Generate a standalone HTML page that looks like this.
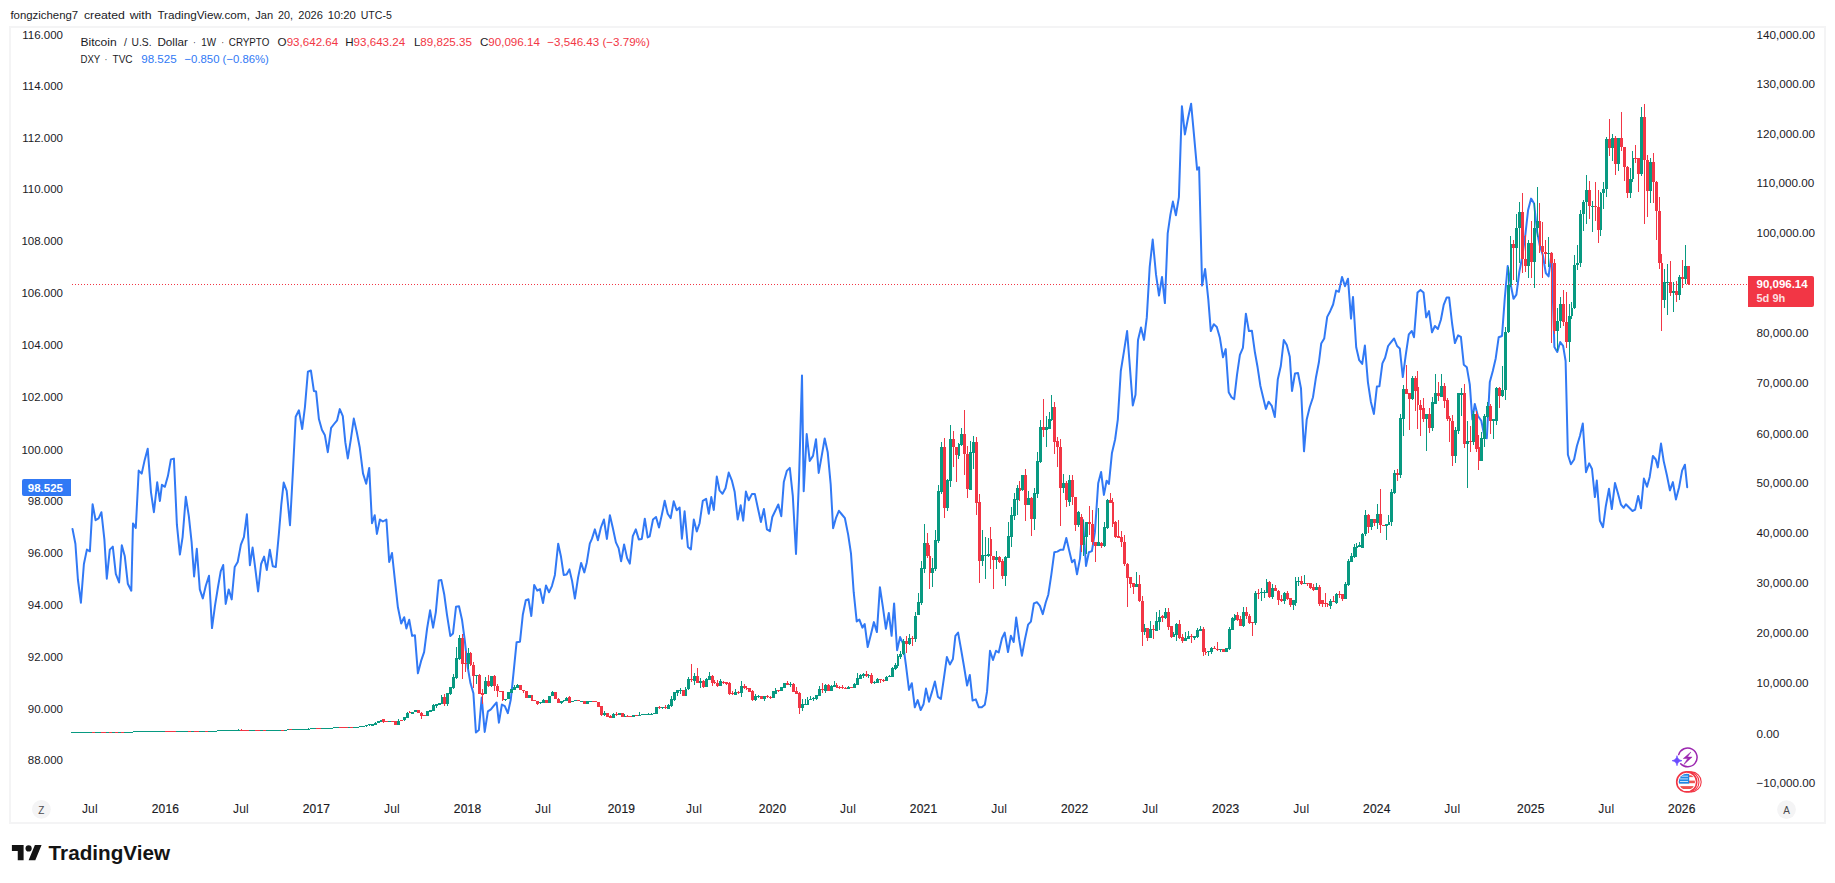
<!DOCTYPE html>
<html lang="en"><head><meta charset="utf-8"><title>BTCUSD vs DXY - TradingView</title>
<style>
html,body{margin:0;padding:0;background:#fff;}
body{width:1835px;height:883px;overflow:hidden;position:relative;font-family:"Liberation Sans",sans-serif;}
svg{position:absolute;left:0;top:0;display:block;}
text{font-family:"Liberation Sans",sans-serif;fill:#1b1b1f;}
.ax{font-size:11.5px;}
.rx{font-size:11.7px;}
.yr{font-size:12px;letter-spacing:0.2px;stroke:#1b1b1f;stroke-width:0.2px;}
.mo{font-size:12px;letter-spacing:0.2px;}
.lg{font-size:11.6px;}
.hd{font-size:11.7px;}
</style></head><body>
<svg width="1835" height="883" viewBox="0 0 1835 883">
<rect x="0" y="0" width="1835" height="883" fill="#fff"/>
<rect x="10" y="27" width="1815" height="796" fill="#fff" stroke="#f4f4f5" stroke-width="2"/>
<text class="hd" y="18.7"><tspan x="10.4" textLength="67.8" lengthAdjust="spacingAndGlyphs">fongzicheng7</tspan> <tspan x="83.9" textLength="41.0" lengthAdjust="spacingAndGlyphs">created</tspan> <tspan x="129.7" textLength="21.9" lengthAdjust="spacingAndGlyphs">with</tspan> <tspan x="157.4" textLength="92.5" lengthAdjust="spacingAndGlyphs">TradingView.com,</tspan> <tspan x="255.2" textLength="17.9" lengthAdjust="spacingAndGlyphs">Jan</tspan> <tspan x="277.9" textLength="15.0" lengthAdjust="spacingAndGlyphs">20,</tspan> <tspan x="298.3" textLength="24.6" lengthAdjust="spacingAndGlyphs">2026</tspan> <tspan x="327.7" textLength="28.2" lengthAdjust="spacingAndGlyphs">10:20</tspan> <tspan x="360.7" textLength="31.1" lengthAdjust="spacingAndGlyphs">UTC-5</tspan> </text>
<text class="ax" x="63" y="39" text-anchor="end">116.000</text>
<text class="ax" x="63" y="90" text-anchor="end">114.000</text>
<text class="ax" x="63" y="142" text-anchor="end">112.000</text>
<text class="ax" x="63" y="193" text-anchor="end">110.000</text>
<text class="ax" x="63" y="245" text-anchor="end">108.000</text>
<text class="ax" x="63" y="297" text-anchor="end">106.000</text>
<text class="ax" x="63" y="349" text-anchor="end">104.000</text>
<text class="ax" x="63" y="401" text-anchor="end">102.000</text>
<text class="ax" x="63" y="454" text-anchor="end">100.000</text>
<text class="ax" x="63" y="505" text-anchor="end">98.000</text>
<text class="ax" x="63" y="557" text-anchor="end">96.000</text>
<text class="ax" x="63" y="609" text-anchor="end">94.000</text>
<text class="ax" x="63" y="661" text-anchor="end">92.000</text>
<text class="ax" x="63" y="713" text-anchor="end">90.000</text>
<text class="ax" x="63" y="764" text-anchor="end">88.000</text>
<text class="rx" x="1756.5" y="39">140,000.00</text>
<text class="rx" x="1756.5" y="88">130,000.00</text>
<text class="rx" x="1756.5" y="138">120,000.00</text>
<text class="rx" x="1756.5" y="187">110,000.00</text>
<text class="rx" x="1756.5" y="237">100,000.00</text>
<text class="rx" x="1756.5" y="287">90,000.00</text>
<text class="rx" x="1756.5" y="337">80,000.00</text>
<text class="rx" x="1756.5" y="387">70,000.00</text>
<text class="rx" x="1756.5" y="438">60,000.00</text>
<text class="rx" x="1756.5" y="487">50,000.00</text>
<text class="rx" x="1756.5" y="537">40,000.00</text>
<text class="rx" x="1756.5" y="587">30,000.00</text>
<text class="rx" x="1756.5" y="637">20,000.00</text>
<text class="rx" x="1756.5" y="687">10,000.00</text>
<text class="rx" x="1756.5" y="738">0.00</text>
<text class="rx" x="1756.5" y="787">−10,000.00</text>
<text class="mo" x="89.9" y="813.2" text-anchor="middle">Jul</text>
<text class="yr" x="165.5" y="813.2" text-anchor="middle">2016</text>
<text class="mo" x="241.0" y="813.2" text-anchor="middle">Jul</text>
<text class="yr" x="316.5" y="813.2" text-anchor="middle">2017</text>
<text class="mo" x="392.0" y="813.2" text-anchor="middle">Jul</text>
<text class="yr" x="467.6" y="813.2" text-anchor="middle">2018</text>
<text class="mo" x="543.1" y="813.2" text-anchor="middle">Jul</text>
<text class="yr" x="621.5" y="813.2" text-anchor="middle">2019</text>
<text class="mo" x="694.1" y="813.2" text-anchor="middle">Jul</text>
<text class="yr" x="772.6" y="813.2" text-anchor="middle">2020</text>
<text class="mo" x="848.1" y="813.2" text-anchor="middle">Jul</text>
<text class="yr" x="923.6" y="813.2" text-anchor="middle">2021</text>
<text class="mo" x="999.2" y="813.2" text-anchor="middle">Jul</text>
<text class="yr" x="1074.7" y="813.2" text-anchor="middle">2022</text>
<text class="mo" x="1150.2" y="813.2" text-anchor="middle">Jul</text>
<text class="yr" x="1225.7" y="813.2" text-anchor="middle">2023</text>
<text class="mo" x="1301.3" y="813.2" text-anchor="middle">Jul</text>
<text class="yr" x="1376.8" y="813.2" text-anchor="middle">2024</text>
<text class="mo" x="1452.3" y="813.2" text-anchor="middle">Jul</text>
<text class="yr" x="1530.8" y="813.2" text-anchor="middle">2025</text>
<text class="mo" x="1606.3" y="813.2" text-anchor="middle">Jul</text>
<text class="yr" x="1681.8" y="813.2" text-anchor="middle">2026</text>
<line x1="72" x2="1748" y1="284.5" y2="284.5" stroke="#f23645" stroke-width="1" stroke-dasharray="1 2" shape-rendering="crispEdges"/>
<polyline fill="none" stroke="#3179f5" stroke-width="2" stroke-linejoin="round" stroke-linecap="round" points="72.5,528.9 75.4,543.8 77.9,579.5 80.9,602.7 83.9,564 86.9,549.6 89.9,551.3 92.6,504.2 95.6,520.2 98.6,518.4 101.4,512.2 104.4,539.6 106.8,578.7 109.8,549.6 112.8,546.6 115.8,573.8 119.1,582.5 121.8,545.3 124.8,556.3 127.8,583.7 131.3,590.7 133,523.4 135.8,527.9 138.7,470.6 141.7,473.6 144.7,459.9 147.7,448.7 151,492.3 153.9,512.2 157.2,482.3 159.9,501 161.9,484.8 164.9,486.8 167.9,476.1 170.9,459.4 173.9,458.6 176.9,524.7 179.9,554.6 182.6,537.1 185.8,496.8 188.8,515.9 191.6,542.1 194.1,576.5 196.8,548.8 199.8,589.4 202.8,598.4 205.8,585.7 209,575.7 212,628.1 215,605.6 218,587 220.7,571.3 223.2,565 225.7,603.9 228.7,589.4 231.7,599.4 234.7,567 237.7,562 240.9,544.6 243.9,537.1 246.9,514.2 249.9,565.3 252.6,547.6 255.1,567 258.1,591.4 261.1,564 264.1,556.6 266.8,570 269.8,549.8 272.8,566.3 275.8,567 278.8,534.6 281.3,504.7 283.7,482.6 286.7,490.8 290,525.2 293,469.6 295.7,416.8 298.9,410.3 302.2,429 304.9,407.3 307.9,371.7 310.9,370.5 313.9,391.1 316.1,391.6 318.9,419.1 321.9,429.8 324.9,435.3 327.8,452.2 331.1,427.8 334.1,424 337.1,420.3 339.8,409.1 342.8,416.1 345.3,442.2 347.8,458.4 350.8,439.7 353.8,418.6 356.8,432.3 359.7,447.2 363,473.4 366.2,483.8 369.2,467.9 372,523.2 374.7,515.2 376.9,533.9 379.9,519.5 382.9,521.5 386.4,519.5 389.2,561.9 392,553 395,581.1 397.9,607.3 401.2,623.5 404.2,617.2 406.4,628.5 409.2,619.7 412.1,635.9 414.9,635.2 417.9,673.3 421.1,660.9 424.1,652.1 427.1,628.5 430.1,610.3 433.1,627.7 435.8,612.3 438.8,580.4 441.3,579.9 444.3,594.8 447,614.8 450.3,635.9 453,633.4 456,606.8 459,606.3 462,619.7 464.7,639.7 467.7,667.1 470.5,683.3 473.4,693.3 475.9,732.4 478.9,729.9 481.7,697.5 484.7,731.9 487.9,711.4 490.9,709.4 493.9,705.7 496.6,702.5 498.9,722.7 501.9,704.5 504.8,706.2 507.8,713.2 510.8,699.5 513.6,672.1 516.6,642.2 520,641.7 522.8,614.8 525.8,600.3 528.5,599.3 531.3,616 534.2,584.9 537.2,590.6 540,589.1 543,603 546,585.4 549,592.3 551.9,586.1 554.9,574.9 558.2,543.7 560.9,556.2 563.7,574.9 566.6,574.4 569.4,569.4 572.1,581.1 574.9,598.6 578.1,577.4 581.1,562.9 584.3,572.4 586.8,562.4 589.8,543.7 591.9,538.9 594.9,529.4 597.9,540.2 600.9,527.5 603.9,519.5 606.9,538.9 609.9,515.2 612.9,528.2 615.9,542.4 618.6,548.1 621.1,561.3 624.1,544.4 627.1,558.1 629.8,563.6 632.8,536.2 635.8,529.4 638.8,539.4 641.8,538.9 644.8,518.7 647.7,537.4 649.7,536.4 653,519.5 656,517 659,527.5 662,514 664.7,500.8 667.7,513.8 670.7,518.2 673.7,501.3 676.7,510.3 679.6,507.5 681.9,538.7 684.6,511.3 687.9,546.9 690.9,549.4 693.8,519.5 696.8,531.4 699.6,523.2 702.8,500.8 706.1,498.8 708.8,513.8 711.3,497.1 713.8,510 716.8,476.6 719.5,490.3 722.5,493.8 725.5,488.3 728.7,472.6 732,480.9 734.7,492.1 737.7,519.5 740.7,505.3 743.2,520.7 745.9,491.6 748.7,500.3 751.9,494.1 754.9,494.1 757.9,508.3 760.9,522 763.9,509 766.9,529.4 769.9,531.2 772.3,517 775.3,510.8 778.3,504.5 781.3,516.2 783.8,482.1 786.8,470.9 789.8,467.9 792.8,495.8 796,553.9 799,479.6 802,375.4 803.7,491.3 806.7,434 809.7,460.9 813,455.9 816,439.2 818.7,472.9 821.7,455.9 824.7,438.5 827.7,452.2 830.7,484.6 833.1,528.2 835.9,518.2 838.9,510.8 841.9,514.5 844.9,518.2 848.2,534.9 851,553.6 853.7,592.2 856.7,621.4 859.4,619.6 862.4,627.6 864.7,624.1 867.7,647 870.9,634.6 873.9,622.1 876.9,632.1 879.9,587.2 882.9,607.2 885.9,628.8 888.8,612.9 891.6,635.8 894.1,603.4 897.1,650.3 900.1,637.1 903,643.3 906,665.7 909,689.9 911.8,683.2 914.8,707.3 917.7,700.1 920.7,710.1 923.5,704.3 926,688.6 929,701.8 932,691.9 934.9,681.4 937.9,696.9 940.9,698.9 943.9,678.2 946.9,657 949.9,664.5 952.9,659 955.4,635.8 958.1,632.6 961.1,649.5 964.1,667 967.1,685.6 969.8,674.9 972.6,700.6 975.8,699.4 978.8,707.3 981.8,707.3 984.8,704.8 987,691.9 990,650.8 993,660 996,650.8 998.7,652.5 1002,638.3 1004.7,632.6 1008,652 1010.9,635.8 1013.7,642 1016.2,617.6 1019.2,639.5 1021.9,655.7 1024.9,639.5 1028.1,624.6 1030.9,621.6 1033.9,603.4 1036.9,602.2 1039.9,605.9 1042.8,614.1 1045.8,602.2 1048.3,594.7 1051.3,574.8 1054.3,552.3 1057.3,551.6 1060.3,549.8 1063.3,549.8 1066.3,537.9 1069,549.8 1072,562.3 1074.5,559.8 1077,574.3 1080,558.6 1083,519.9 1086,566 1088.9,552.3 1091.9,551.1 1094.9,532.4 1098.2,483.2 1101.1,471.9 1103.9,494.9 1106.6,480.7 1108.9,483.9 1111.9,453.3 1115.1,439.5 1117.8,419.6 1120.8,371 1123.8,352.3 1127.1,331.1 1130.1,369.8 1132.8,405.4 1135.5,394.7 1138,339.9 1141,327.4 1144,339.9 1146.8,317.4 1149.7,266.9 1152.7,239.5 1156,274.4 1159,295.6 1162,276.9 1164.9,303.1 1167.7,233.3 1170.4,214.6 1172.9,201.6 1175.9,215.3 1178.9,197.2 1181.9,106.2 1184.9,134.4 1187.9,118.7 1191.1,103.7 1194.1,136.1 1197.1,169.7 1199.1,167.2 1202.1,285.6 1205.1,268.9 1208.3,299.3 1210.8,331.1 1213.8,324.2 1216.8,326.9 1219.8,337.4 1223,357.3 1225.7,349.1 1228.7,392.2 1231.5,397.2 1234.2,399.2 1237,374.8 1239.9,354.8 1242.9,347.8 1245.9,313.7 1248.9,331.1 1251.9,330.7 1254.9,352.3 1257.6,367.3 1260.4,386 1263.1,397.2 1265.9,408.9 1268.6,401.7 1271.8,405.9 1274.8,417.1 1277.8,379.2 1280.8,366 1283.8,339.9 1286.8,344.9 1289.8,356.8 1292,391 1295,373.5 1298,373 1301,388.5 1304,451.3 1306.7,419.6 1309.7,407.2 1313,397.2 1316,377.2 1318.9,362.3 1321.2,343.6 1324.2,338.6 1327.2,316.9 1330.2,311.2 1333.1,304.5 1336.1,290.6 1338.9,291.8 1342,276.9 1345,286.2 1348,278.7 1351,318.6 1353,296.9 1356.2,347.2 1359.2,360.2 1362.2,363.9 1364.9,345.5 1367.9,382.1 1370.9,402 1373.9,414 1376.9,386.6 1379.4,386.3 1382.4,363.4 1385.1,357.7 1388.1,346 1391.1,342.2 1394.1,338.5 1397.1,346 1399.8,348.5 1402.8,377.1 1405.8,354.7 1408.8,334.3 1411.8,331 1414,337.2 1417.5,292.4 1420.5,289.9 1423.5,292.4 1426.2,317.3 1429,311.1 1432,332.3 1434.9,326 1437.9,329 1440.9,319.8 1443.7,304.9 1446.7,297.4 1449.1,297.4 1452.1,323.5 1454.9,343 1458.1,335.3 1460.9,336.8 1463.8,364.7 1466.8,367.2 1469.8,384.6 1472.3,419.5 1474.8,404 1477.8,415.7 1481.3,420.7 1484.3,435.7 1486.8,438.2 1489.8,382.1 1492.8,370.9 1495.7,358.4 1498.7,337.2 1502,336 1504.8,298 1507.7,266 1510.6,284 1513.5,298.8 1516.4,294.7 1519.3,272 1522.2,257 1525.1,237 1528.1,210 1531.1,198.6 1534.1,203.6 1537.1,232 1539.9,246 1542.8,255 1545.8,273 1548.6,276.4 1551.5,253.4 1554.4,347 1557.3,352 1560.2,342 1563.1,345.8 1565.6,361 1567.9,454.7 1570.9,464.2 1574.1,459.5 1576.9,446 1580,435.7 1582.8,423.5 1586,472.2 1589.2,463.4 1592,469 1594.9,497.1 1596.8,480.6 1599.9,520.8 1603,527.2 1605.8,506.2 1609,488.8 1611.8,509.1 1615,482.9 1618,493.6 1621,504.7 1623.7,507.8 1625.9,504.3 1629.3,507.8 1632.5,511 1635.1,509.7 1638.2,495.9 1641,508.3 1643.9,478.5 1647,486.7 1649.7,476.9 1652.9,456 1655.8,459.5 1657.8,467.4 1661,443.6 1663.7,461.1 1666.9,475.3 1669.9,490.4 1672.9,482.1 1675.9,499.4 1679.1,487.2 1682.1,470.6 1684.9,464.7 1687.2,487.2"/>
<path shape-rendering="crispEdges" fill="#089981" d="M238 729h1v1h-1zM308 728h1v1h-1zM366 726h1v1h-1zM369 725h1v1h-1zM375 722h1v1h-1zM398 719h1v2h-1zM404 720h1v1h-1zM407 712h1v1h-1zM433 704h1v1h-1zM436 706h1v2h-1zM441 695h1v2h-1zM447 704h1v2h-1zM450 694h1v1h-1zM453 674h1v3h-1zM453 688h1v1h-1zM456 647h1v11h-1zM456 678h1v1h-1zM459 635h1v3h-1zM459 659h1v1h-1zM468 648h1v5h-1zM468 664h1v5h-1zM476 676h1v8h-1zM485 677h1v4h-1zM491 686h1v1h-1zM505 700h1v1h-1zM514 685h1v2h-1zM517 684h1v1h-1zM540 703h1v1h-1zM543 699h1v1h-1zM552 691h1v1h-1zM561 703h1v1h-1zM563 701h1v1h-1zM566 697h1v1h-1zM604 711h1v2h-1zM604 715h1v1h-1zM613 713h1v1h-1zM624 714h1v2h-1zM639 712h1v3h-1zM648 713h1v1h-1zM651 713h1v1h-1zM662 708h1v1h-1zM668 704h1v1h-1zM671 696h1v3h-1zM671 706h1v1h-1zM674 700h1v1h-1zM677 693h1v3h-1zM680 688h1v2h-1zM680 691h1v3h-1zM685 687h1v2h-1zM688 677h1v2h-1zM688 689h1v1h-1zM694 673h1v3h-1zM694 681h1v4h-1zM700 678h1v3h-1zM700 683h1v5h-1zM706 678h1v1h-1zM709 672h1v4h-1zM720 679h1v2h-1zM735 689h1v3h-1zM741 681h1v5h-1zM741 693h1v4h-1zM755 694h1v2h-1zM755 700h1v1h-1zM758 695h1v1h-1zM758 697h1v1h-1zM764 699h1v2h-1zM775 688h1v2h-1zM790 682h1v2h-1zM790 685h1v2h-1zM802 699h1v5h-1zM802 708h1v3h-1zM805 699h1v5h-1zM807 697h1v3h-1zM810 696h1v3h-1zM813 697h1v1h-1zM813 699h1v2h-1zM816 699h1v1h-1zM819 686h1v3h-1zM825 684h1v1h-1zM825 691h1v2h-1zM831 685h1v1h-1zM834 681h1v4h-1zM848 686h1v1h-1zM854 683h1v1h-1zM857 673h1v5h-1zM860 674h1v1h-1zM863 673h1v1h-1zM863 676h1v2h-1zM868 674h1v1h-1zM868 676h1v2h-1zM874 681h1v1h-1zM874 683h1v1h-1zM877 678h1v1h-1zM886 676h1v1h-1zM889 675h1v1h-1zM892 667h1v1h-1zM895 663h1v2h-1zM895 669h1v1h-1zM897 654h1v2h-1zM897 666h1v2h-1zM900 651h1v3h-1zM900 657h1v2h-1zM903 639h1v2h-1zM903 654h1v1h-1zM909 634h1v4h-1zM909 644h1v1h-1zM915 612h1v4h-1zM915 639h1v3h-1zM918 593h1v9h-1zM921 561h1v7h-1zM921 603h1v2h-1zM924 524h1v19h-1zM924 569h1v4h-1zM932 558h1v10h-1zM932 573h1v14h-1zM935 530h1v10h-1zM935 569h1v2h-1zM938 485h1v6h-1zM938 541h1v2h-1zM941 442h1v5h-1zM941 492h1v2h-1zM947 479h1v1h-1zM947 508h1v3h-1zM950 425h1v14h-1zM950 481h1v6h-1zM958 443h1v1h-1zM958 456h1v3h-1zM961 428h1v6h-1zM961 445h1v1h-1zM970 441h1v11h-1zM973 436h1v6h-1zM973 453h1v16h-1zM982 530h1v25h-1zM982 561h1v5h-1zM985 537h1v18h-1zM985 556h1v23h-1zM988 538h1v16h-1zM988 556h1v1h-1zM996 551h1v6h-1zM996 560h1v9h-1zM1005 556h1v1h-1zM1005 576h1v10h-1zM1008 522h1v14h-1zM1011 507h1v8h-1zM1011 537h1v10h-1zM1014 493h1v6h-1zM1014 516h1v4h-1zM1017 485h1v3h-1zM1017 500h1v15h-1zM1022 490h1v1h-1zM1028 491h1v7h-1zM1034 488h1v5h-1zM1034 519h1v11h-1zM1037 452h1v9h-1zM1037 494h1v4h-1zM1040 420h1v7h-1zM1040 462h1v1h-1zM1046 416h1v11h-1zM1046 430h1v17h-1zM1049 412h1v7h-1zM1051 395h1v12h-1zM1051 420h1v1h-1zM1063 474h1v9h-1zM1063 488h1v5h-1zM1069 475h1v5h-1zM1069 502h1v4h-1zM1078 511h1v1h-1zM1078 525h1v2h-1zM1083 520h1v16h-1zM1083 545h1v11h-1zM1086 537h1v17h-1zM1098 508h1v34h-1zM1104 522h1v5h-1zM1104 546h1v1h-1zM1107 499h1v1h-1zM1107 528h1v1h-1zM1136 572h1v12h-1zM1144 624h1v4h-1zM1144 632h1v3h-1zM1150 621h1v8h-1zM1156 612h1v9h-1zM1159 610h1v7h-1zM1159 622h1v8h-1zM1165 608h1v4h-1zM1165 618h1v1h-1zM1173 632h1v2h-1zM1176 623h1v1h-1zM1176 635h1v6h-1zM1185 632h1v6h-1zM1188 631h1v5h-1zM1194 638h1v2h-1zM1197 628h1v2h-1zM1197 637h1v1h-1zM1200 626h1v3h-1zM1208 652h1v4h-1zM1211 647h1v1h-1zM1211 652h1v2h-1zM1220 650h1v2h-1zM1229 627h1v2h-1zM1229 649h1v1h-1zM1232 617h1v1h-1zM1234 614h1v1h-1zM1234 620h1v1h-1zM1243 607h1v5h-1zM1243 626h1v1h-1zM1255 591h1v2h-1zM1255 623h1v2h-1zM1261 588h1v4h-1zM1261 593h1v8h-1zM1264 590h1v2h-1zM1264 593h1v5h-1zM1266 579h1v3h-1zM1272 584h1v4h-1zM1272 597h1v2h-1zM1284 592h1v1h-1zM1284 601h1v3h-1zM1293 605h1v5h-1zM1295 577h1v4h-1zM1295 603h1v3h-1zM1298 577h1v4h-1zM1298 582h1v4h-1zM1304 575h1v8h-1zM1316 583h1v4h-1zM1330 599h1v2h-1zM1330 606h1v3h-1zM1336 593h1v1h-1zM1336 603h1v1h-1zM1345 582h1v2h-1zM1348 559h1v2h-1zM1348 585h1v1h-1zM1351 553h1v3h-1zM1354 544h1v3h-1zM1354 557h1v1h-1zM1356 543h1v3h-1zM1356 548h1v9h-1zM1359 542h1v3h-1zM1362 533h1v1h-1zM1365 510h1v5h-1zM1365 534h1v2h-1zM1371 527h1v3h-1zM1377 504h1v10h-1zM1377 523h1v6h-1zM1386 526h1v14h-1zM1388 515h1v7h-1zM1391 489h1v3h-1zM1391 522h1v4h-1zM1394 470h1v3h-1zM1394 493h1v1h-1zM1400 414h1v4h-1zM1400 475h1v3h-1zM1403 385h1v4h-1zM1403 419h1v17h-1zM1412 376h1v2h-1zM1412 399h1v1h-1zM1426 419h1v32h-1zM1432 397h1v5h-1zM1432 428h1v3h-1zM1435 374h1v19h-1zM1441 374h1v12h-1zM1455 427h1v3h-1zM1455 456h1v7h-1zM1458 431h1v3h-1zM1461 388h1v5h-1zM1461 395h1v21h-1zM1467 421h1v20h-1zM1467 444h1v44h-1zM1473 411h1v3h-1zM1473 442h1v3h-1zM1481 432h1v6h-1zM1484 414h1v2h-1zM1484 439h1v8h-1zM1487 402h1v4h-1zM1487 417h1v1h-1zM1493 421h1v18h-1zM1496 387h1v1h-1zM1496 421h1v4h-1zM1502 366h1v24h-1zM1502 396h1v1h-1zM1505 327h1v5h-1zM1505 390h1v10h-1zM1508 267h1v18h-1zM1508 332h1v1h-1zM1510 236h1v8h-1zM1510 285h1v2h-1zM1516 214h1v14h-1zM1516 248h1v34h-1zM1519 202h1v10h-1zM1519 228h1v35h-1zM1528 240h1v3h-1zM1528 266h1v12h-1zM1534 203h1v25h-1zM1534 262h1v26h-1zM1537 187h1v34h-1zM1537 228h1v9h-1zM1548 237h1v16h-1zM1548 254h1v13h-1zM1557 308h1v13h-1zM1557 331h1v20h-1zM1560 297h1v7h-1zM1560 321h1v7h-1zM1569 304h1v12h-1zM1569 342h1v20h-1zM1571 302h1v6h-1zM1571 316h1v3h-1zM1574 255h1v10h-1zM1574 308h1v1h-1zM1577 245h1v18h-1zM1577 265h1v5h-1zM1580 210h1v4h-1zM1580 263h1v4h-1zM1583 200h1v2h-1zM1583 214h1v17h-1zM1586 175h1v15h-1zM1586 202h1v22h-1zM1592 201h1v5h-1zM1592 207h1v25h-1zM1600 192h1v1h-1zM1600 230h1v6h-1zM1603 182h1v7h-1zM1603 193h1v16h-1zM1606 137h1v2h-1zM1606 189h1v8h-1zM1612 134h1v4h-1zM1612 148h1v13h-1zM1618 164h1v7h-1zM1630 168h1v11h-1zM1630 193h1v5h-1zM1632 151h1v7h-1zM1632 179h1v3h-1zM1641 107h1v10h-1zM1641 174h1v2h-1zM1650 158h1v4h-1zM1650 191h1v12h-1zM1664 269h1v13h-1zM1664 300h1v8h-1zM1667 264h1v18h-1zM1667 283h1v32h-1zM1673 282h1v9h-1zM1673 293h1v19h-1zM1679 275h1v2h-1zM1679 295h1v5h-1zM1685 245h1v21h-1zM1685 279h1v5h-1z"/>
<path shape-rendering="crispEdges" fill="#f23645" d="M241 729h1v1h-1zM383 722h1v1h-1zM409 711h1v1h-1zM421 712h1v1h-1zM421 716h1v3h-1zM444 694h1v3h-1zM444 704h1v2h-1zM462 634h1v4h-1zM462 664h1v15h-1zM465 651h1v12h-1zM465 664h1v8h-1zM470 652h1v1h-1zM470 665h1v1h-1zM473 662h1v3h-1zM473 676h1v12h-1zM479 674h1v1h-1zM482 689h1v4h-1zM482 695h1v9h-1zM488 675h1v6h-1zM488 686h1v1h-1zM494 675h1v1h-1zM494 686h1v5h-1zM497 684h1v2h-1zM497 691h1v6h-1zM502 700h1v1h-1zM523 691h1v2h-1zM537 704h1v1h-1zM558 698h1v1h-1zM569 696h1v1h-1zM601 715h1v1h-1zM610 715h1v1h-1zM616 712h1v2h-1zM616 715h1v1h-1zM627 715h1v1h-1zM659 706h1v1h-1zM659 708h1v1h-1zM665 705h1v2h-1zM665 708h1v1h-1zM691 664h1v15h-1zM691 680h1v2h-1zM697 668h1v8h-1zM703 680h1v1h-1zM703 687h1v1h-1zM712 675h1v1h-1zM712 683h1v3h-1zM714 680h1v2h-1zM714 683h1v1h-1zM717 680h1v3h-1zM717 686h1v1h-1zM723 681h1v1h-1zM723 683h1v1h-1zM726 684h1v1h-1zM729 682h1v1h-1zM729 694h1v1h-1zM732 691h1v2h-1zM732 694h1v1h-1zM738 691h1v1h-1zM738 693h1v1h-1zM744 684h1v2h-1zM744 688h1v1h-1zM746 686h1v2h-1zM746 689h1v1h-1zM752 690h1v1h-1zM752 700h1v1h-1zM767 695h1v1h-1zM767 697h1v1h-1zM770 696h1v1h-1zM770 698h1v1h-1zM778 691h1v1h-1zM787 681h1v2h-1zM793 683h1v1h-1zM796 687h1v4h-1zM799 692h1v1h-1zM799 708h1v6h-1zM822 683h1v6h-1zM822 690h1v3h-1zM828 684h1v1h-1zM836 683h1v2h-1zM839 686h1v1h-1zM839 688h1v1h-1zM842 685h1v2h-1zM842 688h1v1h-1zM845 687h1v1h-1zM866 671h1v3h-1zM866 676h1v1h-1zM871 673h1v2h-1zM871 683h1v1h-1zM880 680h1v3h-1zM883 679h1v1h-1zM883 681h1v1h-1zM906 636h1v5h-1zM906 644h1v9h-1zM912 636h1v2h-1zM912 639h1v7h-1zM927 533h1v10h-1zM927 556h1v2h-1zM929 545h1v11h-1zM929 573h1v16h-1zM944 438h1v9h-1zM944 508h1v10h-1zM953 431h1v8h-1zM953 447h1v20h-1zM956 455h1v27h-1zM964 410h1v24h-1zM964 454h1v21h-1zM967 446h1v8h-1zM967 489h1v9h-1zM976 437h1v5h-1zM976 503h1v12h-1zM979 494h1v8h-1zM979 561h1v22h-1zM990 527h1v12h-1zM990 556h1v13h-1zM993 560h1v29h-1zM999 556h1v1h-1zM999 562h1v1h-1zM1002 559h1v2h-1zM1002 576h1v3h-1zM1019 481h1v7h-1zM1019 491h1v10h-1zM1025 469h1v6h-1zM1025 505h1v16h-1zM1031 497h1v1h-1zM1031 519h1v17h-1zM1043 399h1v28h-1zM1043 430h1v7h-1zM1054 402h1v5h-1zM1054 442h1v12h-1zM1057 437h1v4h-1zM1057 447h1v20h-1zM1060 439h1v8h-1zM1060 488h1v38h-1zM1066 481h1v2h-1zM1066 500h1v7h-1zM1072 475h1v5h-1zM1072 497h1v8h-1zM1075 525h1v6h-1zM1081 514h1v3h-1zM1081 545h1v7h-1zM1089 506h1v16h-1zM1089 524h1v11h-1zM1092 510h1v14h-1zM1092 542h1v3h-1zM1095 546h1v16h-1zM1101 542h1v1h-1zM1101 546h1v2h-1zM1110 493h1v7h-1zM1112 498h1v4h-1zM1112 524h1v3h-1zM1115 521h1v1h-1zM1115 537h1v1h-1zM1118 520h1v16h-1zM1121 531h1v6h-1zM1121 542h1v5h-1zM1124 535h1v7h-1zM1124 564h1v2h-1zM1127 563h1v1h-1zM1127 578h1v29h-1zM1130 584h1v4h-1zM1133 587h1v7h-1zM1139 575h1v9h-1zM1139 601h1v1h-1zM1142 596h1v5h-1zM1142 632h1v14h-1zM1147 638h1v3h-1zM1153 625h1v4h-1zM1153 630h1v9h-1zM1162 615h1v1h-1zM1162 618h1v4h-1zM1168 608h1v4h-1zM1168 627h1v3h-1zM1171 637h1v1h-1zM1179 620h1v4h-1zM1179 638h1v1h-1zM1182 634h1v3h-1zM1182 641h1v2h-1zM1191 634h1v2h-1zM1191 637h1v6h-1zM1203 627h1v2h-1zM1203 652h1v4h-1zM1205 648h1v4h-1zM1205 653h1v2h-1zM1214 646h1v2h-1zM1217 642h1v7h-1zM1217 650h1v1h-1zM1237 612h1v3h-1zM1237 620h1v1h-1zM1240 616h1v3h-1zM1246 607h1v5h-1zM1246 616h1v3h-1zM1249 614h1v2h-1zM1249 623h1v1h-1zM1252 623h1v13h-1zM1258 589h1v4h-1zM1258 594h1v5h-1zM1269 581h1v1h-1zM1269 597h1v1h-1zM1275 585h1v3h-1zM1278 590h1v1h-1zM1278 600h1v5h-1zM1281 595h1v4h-1zM1281 601h1v1h-1zM1287 591h1v2h-1zM1287 599h1v1h-1zM1290 605h1v2h-1zM1301 576h1v5h-1zM1301 584h1v1h-1zM1307 584h1v2h-1zM1310 588h1v1h-1zM1313 584h1v3h-1zM1313 590h1v1h-1zM1319 585h1v2h-1zM1319 604h1v2h-1zM1322 604h1v3h-1zM1325 593h1v10h-1zM1325 604h1v3h-1zM1327 603h1v1h-1zM1327 605h1v2h-1zM1333 596h1v5h-1zM1339 591h1v3h-1zM1339 595h1v3h-1zM1342 599h1v2h-1zM1368 514h1v1h-1zM1368 527h1v6h-1zM1374 523h1v3h-1zM1380 489h1v25h-1zM1380 525h1v8h-1zM1397 469h1v4h-1zM1397 475h1v6h-1zM1406 365h1v24h-1zM1409 399h1v31h-1zM1415 376h1v2h-1zM1415 391h1v20h-1zM1417 371h1v16h-1zM1417 405h1v24h-1zM1420 400h1v5h-1zM1420 410h1v26h-1zM1423 398h1v10h-1zM1423 419h1v3h-1zM1429 408h1v6h-1zM1429 428h1v5h-1zM1438 382h1v11h-1zM1438 396h1v5h-1zM1444 383h1v3h-1zM1444 401h1v7h-1zM1447 398h1v2h-1zM1447 419h1v2h-1zM1449 416h1v2h-1zM1449 421h1v21h-1zM1452 415h1v6h-1zM1452 456h1v10h-1zM1464 384h1v9h-1zM1464 444h1v4h-1zM1470 426h1v15h-1zM1470 442h1v10h-1zM1476 411h1v3h-1zM1476 449h1v3h-1zM1478 435h1v12h-1zM1478 461h1v9h-1zM1490 404h1v2h-1zM1490 421h1v13h-1zM1499 387h1v1h-1zM1499 396h1v12h-1zM1513 240h1v4h-1zM1513 248h1v32h-1zM1522 193h1v19h-1zM1522 259h1v14h-1zM1525 235h1v24h-1zM1525 266h1v6h-1zM1531 221h1v22h-1zM1531 262h1v16h-1zM1539 203h1v18h-1zM1539 246h1v7h-1zM1542 222h1v24h-1zM1542 252h1v26h-1zM1545 240h1v12h-1zM1545 254h1v10h-1zM1551 252h1v1h-1zM1551 263h1v80h-1zM1554 259h1v4h-1zM1554 331h1v3h-1zM1563 290h1v14h-1zM1563 322h1v4h-1zM1566 292h1v30h-1zM1566 342h1v6h-1zM1589 181h1v9h-1zM1589 206h1v13h-1zM1595 182h1v24h-1zM1595 207h1v14h-1zM1598 190h1v17h-1zM1598 230h1v13h-1zM1609 119h1v20h-1zM1609 148h1v8h-1zM1615 136h1v2h-1zM1615 164h1v11h-1zM1621 112h1v26h-1zM1621 147h1v4h-1zM1624 167h1v14h-1zM1627 166h1v1h-1zM1627 193h1v5h-1zM1635 145h1v13h-1zM1635 159h1v4h-1zM1638 174h1v18h-1zM1644 104h1v13h-1zM1644 160h1v64h-1zM1647 155h1v5h-1zM1647 191h1v26h-1zM1653 153h1v9h-1zM1653 182h1v21h-1zM1656 181h1v1h-1zM1656 211h1v29h-1zM1659 197h1v14h-1zM1659 263h1v6h-1zM1661 254h1v9h-1zM1661 300h1v31h-1zM1670 261h1v21h-1zM1670 293h1v3h-1zM1676 281h1v10h-1zM1676 295h1v7h-1zM1682 260h1v17h-1zM1682 279h1v9h-1zM1688 284h1v1h-1z"/>
<path shape-rendering="crispEdges" fill="#089981" d="M71 732h3v1h-3zM74 732h3v1h-3zM77 732h3v1h-3zM80 732h3v1h-3zM83 732h3v1h-3zM86 732h3v1h-3zM89 732h3v1h-3zM95 732h3v1h-3zM98 732h3v1h-3zM106 732h3v1h-3zM112 732h3v1h-3zM118 732h3v1h-3zM124 732h3v1h-3zM127 732h3v1h-3zM130 732h3v1h-3zM133 731h3v1h-3zM136 731h2v1h-2zM138 731h3v1h-3zM141 731h3v1h-3zM144 731h3v1h-3zM147 731h3v1h-3zM150 731h3v1h-3zM153 731h3v1h-3zM156 731h3v1h-3zM159 731h3v1h-3zM162 731h3v1h-3zM176 731h3v1h-3zM179 731h3v1h-3zM182 731h3v1h-3zM185 731h3v1h-3zM191 731h3v1h-3zM199 731h3v1h-3zM202 731h3v1h-3zM208 731h3v1h-3zM211 731h3v1h-3zM214 731h3v1h-3zM217 730h3v1h-3zM220 730h3v1h-3zM223 730h3v1h-3zM226 730h2v1h-2zM228 730h3v1h-3zM231 730h3v1h-3zM234 730h3v1h-3zM237 730h3v1h-3zM249 730h3v1h-3zM252 730h3v1h-3zM260 730h3v1h-3zM266 730h3v1h-3zM269 730h3v1h-3zM272 730h3v1h-3zM275 730h3v1h-3zM278 730h3v1h-3zM284 730h3v1h-3zM287 729h2v1h-2zM292 729h3v1h-3zM295 729h3v1h-3zM298 729h3v1h-3zM301 729h3v1h-3zM304 729h3v1h-3zM307 729h3v1h-3zM310 728h3v1h-3zM313 728h3v1h-3zM321 728h3v1h-3zM324 728h3v1h-3zM327 728h3v1h-3zM330 728h3v1h-3zM333 727h3v1h-3zM336 727h3v1h-3zM348 727h2v1h-2zM353 727h3v1h-3zM356 727h3v1h-3zM359 726h3v1h-3zM362 726h3v1h-3zM365 725h3v1h-3zM368 724h3v1h-3zM371 724h3v2h-3zM374 723h3v2h-3zM377 721h3v2h-3zM380 720h2v2h-2zM388 721h3v1h-3zM397 721h3v4h-3zM403 717h3v3h-3zM406 713h3v5h-3zM411 712h3v2h-3zM414 710h3v2h-3zM426 711h3v5h-3zM429 710h3v2h-3zM432 705h3v6h-3zM435 704h3v2h-3zM438 703h3v2h-3zM441 697h2v7h-2zM446 693h3v11h-3zM449 687h3v7h-3zM452 677h3v11h-3zM455 658h3v20h-3zM458 638h3v21h-3zM467 653h3v11h-3zM475 675h3v1h-3zM484 681h3v13h-3zM490 676h3v10h-3zM504 699h3v1h-3zM507 692h3v7h-3zM510 689h3v4h-3zM513 687h3v3h-3zM516 685h3v3h-3zM528 695h3v3h-3zM539 702h3v1h-3zM542 700h3v3h-3zM548 696h3v7h-3zM551 692h3v4h-3zM560 701h3v2h-3zM563 700h2v1h-2zM565 698h3v3h-3zM571 701h3v1h-3zM574 700h3v1h-3zM580 701h3v1h-3zM586 701h3v3h-3zM589 701h3v1h-3zM603 713h3v2h-3zM612 714h3v4h-3zM618 713h3v2h-3zM624 716h2v1h-2zM632 715h3v2h-3zM638 715h3v1h-3zM641 714h3v1h-3zM644 714h3v1h-3zM647 714h3v1h-3zM650 714h3v1h-3zM653 713h2v1h-2zM655 707h3v7h-3zM661 707h3v1h-3zM667 705h3v4h-3zM670 699h3v7h-3zM673 692h3v8h-3zM676 690h3v3h-3zM679 690h3v1h-3zM685 689h2v7h-2zM687 679h3v10h-3zM693 676h3v5h-3zM699 681h3v2h-3zM705 679h3v8h-3zM708 676h3v4h-3zM719 681h3v5h-3zM734 692h3v3h-3zM740 686h3v7h-3zM754 696h3v4h-3zM757 696h3v1h-3zM763 696h3v3h-3zM772 691h3v7h-3zM775 690h2v4h-2zM780 687h3v4h-3zM783 683h3v5h-3zM789 684h3v1h-3zM801 704h3v4h-3zM804 704h3v1h-3zM807 700h2v5h-2zM809 699h3v1h-3zM812 698h3v1h-3zM815 695h3v4h-3zM818 689h3v7h-3zM824 685h3v6h-3zM830 686h3v5h-3zM833 685h3v2h-3zM847 687h3v2h-3zM853 684h3v4h-3zM856 678h3v7h-3zM859 675h3v4h-3zM862 674h3v2h-3zM868 675h2v1h-2zM873 682h3v1h-3zM876 679h3v4h-3zM885 677h3v4h-3zM888 676h3v1h-3zM891 668h3v9h-3zM894 665h3v4h-3zM897 656h2v10h-2zM899 654h3v3h-3zM902 641h3v13h-3zM908 638h3v6h-3zM914 616h3v23h-3zM917 602h3v13h-3zM920 568h3v35h-3zM923 543h3v26h-3zM931 568h3v5h-3zM934 540h3v29h-3zM937 491h3v50h-3zM940 447h3v45h-3zM946 480h3v28h-3zM949 439h3v42h-3zM958 444h2v12h-2zM960 434h3v11h-3zM969 452h3v38h-3zM972 442h3v11h-3zM981 555h3v6h-3zM984 555h3v1h-3zM987 554h3v2h-3zM995 557h3v3h-3zM1004 557h3v19h-3zM1007 536h3v22h-3zM1010 515h3v22h-3zM1013 499h3v17h-3zM1016 488h3v12h-3zM1021 475h3v15h-3zM1027 498h3v7h-3zM1033 493h3v26h-3zM1036 461h3v33h-3zM1039 427h3v35h-3zM1045 427h3v3h-3zM1048 419h3v10h-3zM1051 407h2v13h-2zM1062 483h3v5h-3zM1068 480h3v22h-3zM1077 512h3v13h-3zM1083 536h2v9h-2zM1085 522h3v15h-3zM1097 542h3v4h-3zM1103 527h3v19h-3zM1106 500h3v28h-3zM1135 584h3v3h-3zM1144 628h2v4h-2zM1149 629h3v9h-3zM1155 621h3v10h-3zM1158 617h3v5h-3zM1164 612h3v6h-3zM1173 634h2v3h-2zM1175 624h3v11h-3zM1184 638h3v3h-3zM1187 636h3v3h-3zM1193 636h3v2h-3zM1196 630h3v7h-3zM1199 629h3v2h-3zM1207 651h3v1h-3zM1210 648h3v4h-3zM1219 649h3v1h-3zM1225 648h3v4h-3zM1228 629h3v20h-3zM1231 618h3v12h-3zM1234 615h2v5h-2zM1242 612h3v14h-3zM1254 593h3v30h-3zM1260 592h3v1h-3zM1263 592h3v1h-3zM1266 582h2v11h-2zM1271 588h3v9h-3zM1283 593h3v8h-3zM1292 600h3v5h-3zM1295 581h2v22h-2zM1297 581h3v1h-3zM1303 583h3v1h-3zM1315 587h3v3h-3zM1329 601h3v5h-3zM1335 594h3v9h-3zM1344 584h3v15h-3zM1347 561h3v24h-3zM1350 556h3v6h-3zM1353 547h3v10h-3zM1356 546h2v2h-2zM1358 545h3v2h-3zM1361 534h3v14h-3zM1364 515h3v19h-3zM1370 519h3v8h-3zM1376 514h3v9h-3zM1385 524h3v2h-3zM1388 522h2v3h-2zM1390 492h3v30h-3zM1393 473h3v20h-3zM1399 418h3v57h-3zM1402 389h3v30h-3zM1411 378h3v21h-3zM1425 414h3v5h-3zM1431 402h3v26h-3zM1434 393h3v11h-3zM1440 386h3v11h-3zM1454 430h3v26h-3zM1457 393h3v38h-3zM1460 393h3v2h-3zM1466 441h3v3h-3zM1472 414h3v28h-3zM1480 438h3v23h-3zM1483 416h3v23h-3zM1486 406h3v11h-3zM1492 419h3v2h-3zM1495 388h3v33h-3zM1501 390h3v6h-3zM1504 332h3v58h-3zM1507 285h3v47h-3zM1510 244h2v41h-2zM1515 228h3v20h-3zM1518 212h3v16h-3zM1527 243h3v23h-3zM1533 228h3v34h-3zM1536 221h3v7h-3zM1547 253h3v1h-3zM1556 321h3v10h-3zM1559 304h3v17h-3zM1568 316h3v26h-3zM1571 308h2v8h-2zM1573 265h3v43h-3zM1576 263h3v2h-3zM1579 214h3v49h-3zM1582 202h3v12h-3zM1585 190h3v12h-3zM1591 206h3v1h-3zM1600 193h2v37h-2zM1602 189h3v4h-3zM1605 139h3v50h-3zM1611 138h3v10h-3zM1617 138h3v26h-3zM1629 179h3v14h-3zM1632 158h2v21h-2zM1640 117h3v57h-3zM1649 162h3v29h-3zM1663 282h3v18h-3zM1666 282h3v1h-3zM1672 291h3v2h-3zM1678 277h3v18h-3zM1684 266h3v13h-3z"/>
<path shape-rendering="crispEdges" fill="#f23645" d="M92 732h3v1h-3zM101 732h3v1h-3zM104 732h2v1h-2zM109 732h3v1h-3zM115 732h3v1h-3zM121 732h3v1h-3zM165 731h2v1h-2zM167 731h3v1h-3zM170 731h3v1h-3zM173 731h3v1h-3zM188 731h3v1h-3zM194 731h3v1h-3zM197 731h2v1h-2zM205 731h3v1h-3zM240 730h3v1h-3zM243 730h3v1h-3zM246 730h3v1h-3zM255 730h3v1h-3zM258 730h2v1h-2zM263 730h3v1h-3zM281 730h3v1h-3zM289 729h3v1h-3zM316 728h3v1h-3zM319 728h2v1h-2zM339 727h3v1h-3zM342 727h3v1h-3zM345 727h3v1h-3zM350 727h3v1h-3zM382 719h3v3h-3zM385 721h3v1h-3zM391 721h3v1h-3zM394 721h3v4h-3zM400 720h3v1h-3zM409 712h2v1h-2zM417 710h3v3h-3zM420 713h3v3h-3zM423 715h3v1h-3zM443 697h3v7h-3zM461 638h3v26h-3zM464 663h3v1h-3zM470 653h2v12h-2zM472 665h3v11h-3zM478 675h3v19h-3zM481 693h3v2h-3zM487 681h3v5h-3zM493 676h3v10h-3zM496 686h3v5h-3zM499 691h3v1h-3zM502 691h2v9h-2zM519 685h3v5h-3zM522 690h3v1h-3zM525 691h3v7h-3zM531 695h2v6h-2zM533 700h3v1h-3zM536 701h3v3h-3zM545 700h3v3h-3zM554 692h3v7h-3zM557 699h3v4h-3zM568 697h3v6h-3zM577 700h3v1h-3zM583 701h3v3h-3zM592 701h2v1h-2zM594 701h3v1h-3zM597 702h3v5h-3zM600 706h3v9h-3zM606 713h3v4h-3zM609 716h3v2h-3zM615 714h3v1h-3zM621 713h3v4h-3zM626 716h3v1h-3zM629 716h3v1h-3zM635 715h3v1h-3zM658 707h3v1h-3zM664 707h3v1h-3zM682 690h3v6h-3zM690 679h3v1h-3zM696 676h3v7h-3zM702 681h3v6h-3zM711 676h3v7h-3zM714 682h2v1h-2zM716 683h3v3h-3zM722 682h3v1h-3zM725 682h3v2h-3zM728 683h3v11h-3zM731 693h3v1h-3zM737 692h3v1h-3zM743 686h3v2h-3zM746 688h2v1h-2zM748 688h3v4h-3zM751 691h3v9h-3zM760 696h3v3h-3zM766 696h3v1h-3zM769 697h3v1h-3zM777 690h3v1h-3zM786 683h3v2h-3zM792 684h3v8h-3zM795 691h3v3h-3zM798 693h3v15h-3zM821 689h3v1h-3zM827 685h3v6h-3zM836 685h2v3h-2zM838 687h3v1h-3zM841 687h3v1h-3zM844 688h3v1h-3zM850 687h3v1h-3zM865 674h3v2h-3zM870 675h3v8h-3zM879 679h3v1h-3zM882 680h3v1h-3zM905 641h3v3h-3zM911 638h3v1h-3zM926 543h3v13h-3zM929 556h2v17h-2zM943 447h3v61h-3zM952 439h3v8h-3zM955 447h3v8h-3zM963 434h3v20h-3zM966 454h3v35h-3zM975 442h3v61h-3zM978 502h3v59h-3zM990 539h2v17h-2zM992 556h3v4h-3zM998 557h3v5h-3zM1001 561h3v15h-3zM1019 488h2v3h-2zM1024 475h3v30h-3zM1030 498h3v21h-3zM1042 427h3v3h-3zM1053 407h3v35h-3zM1056 441h3v6h-3zM1059 447h3v41h-3zM1065 483h3v17h-3zM1071 480h3v17h-3zM1074 497h3v28h-3zM1080 517h3v28h-3zM1088 522h3v2h-3zM1091 524h3v18h-3zM1094 542h3v4h-3zM1100 543h3v3h-3zM1109 500h3v3h-3zM1112 502h2v22h-2zM1114 522h3v15h-3zM1117 536h3v2h-3zM1120 537h3v5h-3zM1123 542h3v22h-3zM1126 564h3v14h-3zM1129 577h3v7h-3zM1132 583h3v4h-3zM1138 584h3v17h-3zM1141 601h3v31h-3zM1146 628h3v10h-3zM1152 629h3v1h-3zM1161 616h3v2h-3zM1167 612h3v15h-3zM1170 626h3v11h-3zM1178 624h3v14h-3zM1181 637h3v4h-3zM1190 636h3v1h-3zM1202 629h3v23h-3zM1205 652h2v1h-2zM1213 648h3v1h-3zM1216 649h3v1h-3zM1222 649h3v3h-3zM1236 615h3v5h-3zM1239 619h3v7h-3zM1245 612h3v4h-3zM1248 616h3v7h-3zM1251 622h3v1h-3zM1257 593h3v1h-3zM1268 582h3v15h-3zM1274 588h3v3h-3zM1277 591h3v9h-3zM1280 599h3v2h-3zM1286 593h3v6h-3zM1289 598h3v7h-3zM1300 581h3v3h-3zM1306 583h3v1h-3zM1309 583h3v5h-3zM1312 587h3v3h-3zM1318 587h3v17h-3zM1321 600h3v4h-3zM1324 603h3v1h-3zM1327 604h2v1h-2zM1332 601h3v1h-3zM1338 594h3v1h-3zM1341 594h3v5h-3zM1367 515h3v12h-3zM1373 519h3v4h-3zM1379 514h3v11h-3zM1382 525h3v1h-3zM1396 473h3v2h-3zM1405 389h3v5h-3zM1408 393h3v6h-3zM1414 378h3v13h-3zM1417 387h2v18h-2zM1419 405h3v5h-3zM1422 408h3v11h-3zM1428 414h3v14h-3zM1437 393h3v3h-3zM1443 386h3v15h-3zM1446 400h3v19h-3zM1449 418h2v3h-2zM1451 421h3v35h-3zM1463 393h3v51h-3zM1469 441h3v1h-3zM1475 414h3v35h-3zM1478 447h2v14h-2zM1489 406h3v15h-3zM1498 388h3v8h-3zM1512 244h3v4h-3zM1521 212h3v47h-3zM1524 259h3v7h-3zM1530 243h3v19h-3zM1539 221h2v25h-2zM1541 246h3v6h-3zM1544 252h3v2h-3zM1550 253h3v10h-3zM1553 263h3v68h-3zM1562 304h3v18h-3zM1565 322h3v20h-3zM1588 190h3v16h-3zM1594 206h3v1h-3zM1597 207h3v23h-3zM1608 139h3v9h-3zM1614 138h3v26h-3zM1620 138h3v9h-3zM1623 147h3v20h-3zM1626 167h3v26h-3zM1634 158h3v1h-3zM1637 158h3v16h-3zM1643 117h3v43h-3zM1646 160h3v31h-3zM1652 162h3v20h-3zM1655 182h3v29h-3zM1658 211h3v52h-3zM1661 263h2v37h-2zM1669 282h3v11h-3zM1675 291h3v4h-3zM1681 277h3v2h-3zM1687 266h3v18h-3z"/>
<g class="lg">
<text y="45.9"><tspan x="80.5" textLength="36.2" lengthAdjust="spacingAndGlyphs">Bitcoin</tspan> <tspan x="124.0" textLength="2.9" lengthAdjust="spacingAndGlyphs">/</tspan> <tspan x="131.6" textLength="20.0" lengthAdjust="spacingAndGlyphs">U.S.</tspan> <tspan x="157.4" textLength="30.5" lengthAdjust="spacingAndGlyphs">Dollar</tspan> <tspan x="193.2" textLength="2.4" lengthAdjust="spacingAndGlyphs">·</tspan> <tspan x="201.2" textLength="14.8" lengthAdjust="spacingAndGlyphs">1W</tspan> <tspan x="221.6" textLength="2.4" lengthAdjust="spacingAndGlyphs">·</tspan> <tspan x="228.8" textLength="40.5" lengthAdjust="spacingAndGlyphs">CRYPTO</tspan> </text>
<text x="277.6" y="45.9">O<tspan fill="#f23645">93,642.64</tspan></text>
<text x="345.2" y="45.9">H<tspan fill="#f23645">93,643.24</tspan></text>
<text x="413.9" y="45.9">L<tspan fill="#f23645">89,825.35</tspan></text>
<text x="479.9" y="45.9">C<tspan fill="#f23645">90,096.14</tspan></text>
<text x="547.3" y="45.9" fill="#f23645" style="fill:#f23645">−3,546.43 (−3.79%)</text>
<text y="63.1"><tspan x="80.5" textLength="19.6" lengthAdjust="spacingAndGlyphs">DXY</tspan> <tspan x="104.8" textLength="2.4" lengthAdjust="spacingAndGlyphs">·</tspan> <tspan x="112.5" textLength="20.1" lengthAdjust="spacingAndGlyphs">TVC</tspan> </text>
<text x="141.2" y="63.1" style="fill:#3179f5">98.525</text>
<text x="184.5" y="63.1" textLength="84.4" lengthAdjust="spacingAndGlyphs" style="fill:#3179f5">−0.850 (−0.86%)</text>
</g>
<path d="M1748 276h64a2 2 0 0 1 2 2v27a2 2 0 0 1 -2 2h-64z" fill="#f23645"/>
<text x="1756.5" y="287.8" style="fill:#fff;font-weight:bold;font-size:11.5px">90,096.14</text>
<text x="1756.5" y="302" style="fill:#fff;fill-opacity:.85;font-weight:bold;font-size:11px">5d 9h</text>
<path d="M71 479h-47a2 2 0 0 0 -2 2v13a2 2 0 0 0 2 2h47z" fill="#3179f5"/>
<text x="63" y="491.8" text-anchor="end" style="fill:#fff;font-weight:bold;font-size:11.5px">98.525</text>
<circle cx="41.4" cy="809.3" r="9.4" fill="#f4f4f5"/>
<text x="41.4" y="814.1" text-anchor="middle" style="font-size:10px;fill:#4a4a4e">Z</text>
<circle cx="1786.5" cy="809.6" r="9.4" fill="#f4f4f5"/>
<text x="1786.5" y="814.1" text-anchor="middle" style="font-size:10px;fill:#4a4a4e">A</text>
<g fill="none" stroke="#9c27b0" stroke-width="1.5" stroke-linecap="round">
<path d="M1678.7 754.6A9.4 9.4 0 1 1 1680.7 763.7"/>
</g>
<path d="M1690.9 752l-7.6 6.5h4.4l-4 6.2 8.4-7.6h-4.6z" fill="#9c27b0" stroke="#9c27b0" stroke-width=".5" stroke-linejoin="round"/>
<path d="M1677 755.6c.6 3.2 1.8 4.5 5 5.1c-3.2 .6-4.4 1.9-5 5.1c-.6-3.2-1.8-4.5-5-5.1c3.2-.6 4.4-1.900 5-5.100z" fill="#6a4cff" stroke="#6a4cff" stroke-width=".6" stroke-linejoin="round"/>
<g>
<circle cx="1691.2" cy="781.9" r="10" fill="#fff" stroke="#f23645" stroke-width="1.1"/>
<circle cx="1689" cy="781.9" r="10" fill="#fff" stroke="#f23645" stroke-width="1.1"/>
<circle cx="1686.7" cy="781.9" r="10" fill="#fff" stroke="#f23645" stroke-width="1.6"/>
<clipPath id="fl"><circle cx="1686.9" cy="781.9" r="8.1"/></clipPath>
<g clip-path="url(#fl)">
<rect x="1678" y="773" width="18" height="18" fill="#fff"/>
<rect x="1678" y="775.2" width="18" height="1.9" fill="#ef5350"/>
<rect x="1678" y="780.6" width="18" height="2.6" fill="#ef5350"/>
<rect x="1678" y="786.1" width="18" height="2.9" fill="#ef5350"/>
<rect x="1678" y="773" width="11.2" height="10.6" fill="#1e88e5"/>
<g fill="#fff" fill-opacity=".75"><rect x="1681.5" y="775.7" width="6.5" height="1"/><rect x="1680" y="778.4" width="8" height="1"/><rect x="1680" y="781" width="8" height="1"/></g>
</g>
</g>
<g transform="translate(11.9 841.76) scale(.836)" fill="#141414"><path d="M14 22H7V11H0V4h14v18zM28 22h-8l7.5-18h8L28 22z"/><circle cx="20" cy="8" r="3.7"/></g>
<text x="48.6" y="859.7" textLength="121.5" lengthAdjust="spacingAndGlyphs" style="font-weight:bold;font-size:20px;fill:#141414">TradingView</text>
</svg>
</body></html>
